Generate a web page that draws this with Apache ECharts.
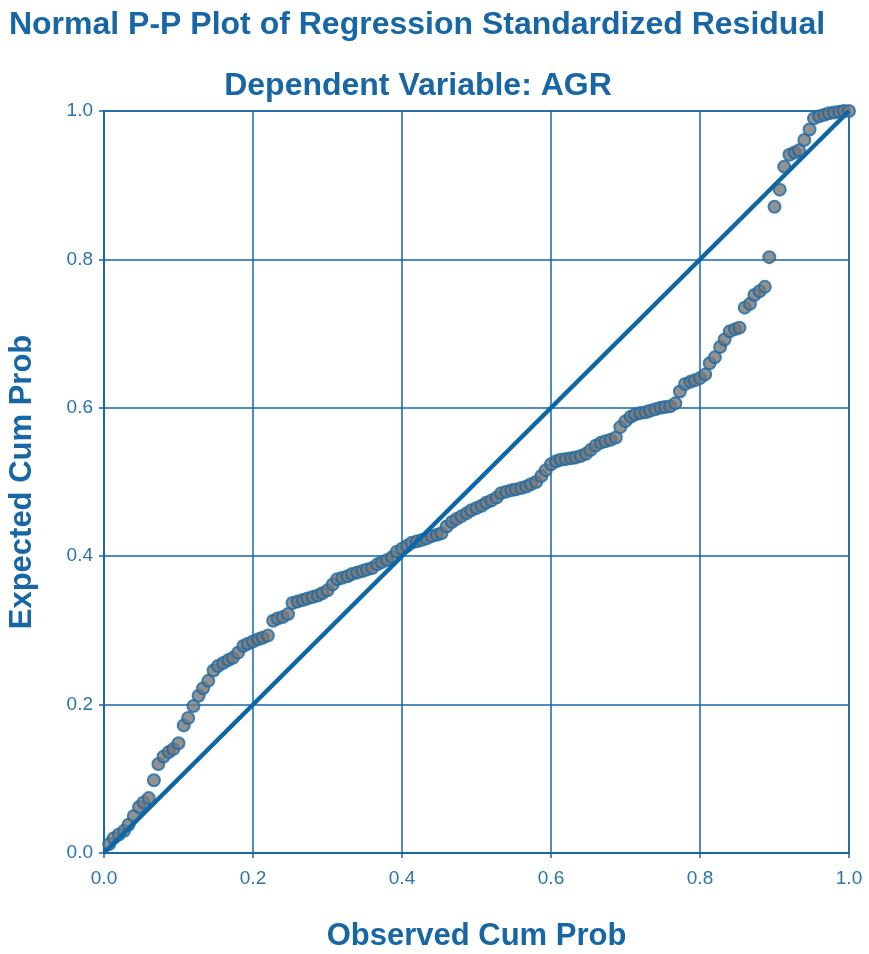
<!DOCTYPE html>
<html>
<head>
<meta charset="utf-8">
<script src="https://cdn.jsdelivr.net/npm/echarts@6/dist/echarts.min.js"></script>
<style>html,body{margin:0;padding:0;background:#fff}#c{width:869px;height:954px}</style>
</head>
<body>
<div id="c"></div>
<script>
const titleText = 'Normal P-P Plot of Regression Standardized Residual';
const subtitleText = 'Dependent Variable: AGR';
const xName = 'Observed Cum Prob';
const yName = 'Expected Cum Prob';
const tickValues = [0, 0.2, 0.4, 0.6, 0.8, 1.0];

const observed = [
  0.007,0.013,0.020,0.027,0.033,0.040,0.047,0.053,0.060,0.067,
  0.073,0.080,0.087,0.093,0.100,0.107,0.113,0.120,0.127,0.133,
  0.140,0.147,0.153,0.160,0.167,0.173,0.180,0.187,0.193,0.200,
  0.207,0.213,0.220,0.227,0.233,0.240,0.247,0.253,0.260,0.267,
  0.273,0.280,0.287,0.293,0.300,0.307,0.313,0.320,0.327,0.333,
  0.340,0.347,0.353,0.360,0.367,0.373,0.380,0.387,0.393,0.400,
  0.407,0.413,0.420,0.427,0.433,0.440,0.447,0.453,0.460,0.467,
  0.473,0.480,0.487,0.493,0.500,0.507,0.513,0.520,0.527,0.533,
  0.540,0.547,0.553,0.560,0.567,0.573,0.580,0.587,0.593,0.600,
  0.607,0.613,0.620,0.627,0.633,0.640,0.647,0.653,0.660,0.667,
  0.673,0.680,0.687,0.693,0.700,0.707,0.713,0.720,0.727,0.733,
  0.740,0.747,0.753,0.760,0.767,0.773,0.780,0.787,0.793,0.800,
  0.807,0.813,0.820,0.827,0.833,0.840,0.847,0.853,0.860,0.867,
  0.873,0.880,0.887,0.893,0.900,0.907,0.913,0.920,0.927,0.933,
  0.940,0.947,0.953,0.960,0.967,0.973,0.980,0.987,0.993,1.000
];
const expected = [
  0.012,0.020,0.025,0.030,0.038,0.050,0.062,0.068,0.074,0.098,
  0.120,0.130,0.136,0.140,0.148,0.172,0.182,0.198,0.212,0.222,
  0.232,0.246,0.252,0.256,0.260,0.263,0.270,0.279,0.282,0.285,
  0.288,0.290,0.293,0.313,0.316,0.318,0.322,0.337,0.339,0.341,
  0.343,0.345,0.347,0.350,0.354,0.362,0.369,0.371,0.373,0.376,
  0.378,0.380,0.382,0.384,0.389,0.392,0.395,0.399,0.406,0.410,
  0.414,0.418,0.420,0.422,0.424,0.427,0.429,0.431,0.440,0.446,
  0.450,0.454,0.458,0.462,0.465,0.468,0.472,0.475,0.479,0.485,
  0.487,0.489,0.490,0.492,0.494,0.497,0.500,0.508,0.516,0.524,
  0.528,0.530,0.531,0.532,0.533,0.535,0.538,0.543,0.549,0.553,
  0.555,0.557,0.560,0.574,0.582,0.588,0.591,0.593,0.594,0.596,
  0.598,0.600,0.601,0.602,0.606,0.622,0.632,0.635,0.637,0.640,
  0.645,0.660,0.668,0.682,0.692,0.703,0.706,0.708,0.735,0.740,
  0.752,0.757,0.763,0.803,0.871,0.894,0.925,0.941,0.944,0.947,
  0.961,0.975,0.990,0.993,0.995,0.997,0.998,0.999,1.000,1.000
];
const refLineX = [0, 1];
const refLineY = [0, 1];

const blue = '#1766a6';
const font = '"Liberation Sans", Arial, sans-serif';
const chart = echarts.init(document.getElementById('c'), null, {renderer: 'canvas'});

const axisCommon = {
  type: 'value', min: 0, max: 1, interval: 0.2,
  axisLine: {show: true, lineStyle: {color: blue, width: 1.5}},
  axisTick: {show: true, length: 5, lineStyle: {color: blue, width: 1.5}},
  splitLine: {show: true, lineStyle: {color: blue, width: 1.5}},
  axisLabel: {color: '#2a72b0', fontSize: 19, fontFamily: font, formatter: v => v.toFixed(1)},
  nameLocation: 'middle',
  nameTextStyle: {color: blue, fontSize: 31, fontWeight: 'bold', fontFamily: font}
};

chart.setOption({
  animation: false,
  backgroundColor: '#fff',
  graphic: [
    {type: 'text', x: 417, y: 25, style: {text: titleText, fill: blue, font: 'bold 32px ' + font, textAlign: 'center', textVerticalAlign: 'middle'}},
    {type: 'text', x: 418, y: 86, style: {text: subtitleText, fill: blue, font: 'bold 32px ' + font, textAlign: 'center', textVerticalAlign: 'middle'}}
  ],
  grid: {left: 104, right: 20, top: 111, bottom: 101, containLabel: false, outerBoundsMode: 'none',
         show: true, borderColor: blue, borderWidth: 1.5, backgroundColor: 'transparent'},
  xAxis: Object.assign({}, axisCommon, {name: xName, nameGap: 68, axisLabel: Object.assign({}, axisCommon.axisLabel, {margin: 16})}),
  yAxis: Object.assign({}, axisCommon, {name: yName, nameGap: 66, axisLabel: Object.assign({}, axisCommon.axisLabel, {margin: 11})}),
  series: [
    {
      type: 'scatter',
      data: observed.map((x, i) => [x, expected[i]]),
      symbol: 'circle', symbolSize: 12,
      itemStyle: {color: '#777777', borderColor: '#1a6aa8', borderWidth: 2},
      z: 2
    },
    {
      type: 'line',
      data: refLineX.map((x, i) => [x, refLineY[i]]),
      showSymbol: false, symbol: 'none',
      lineStyle: {color: '#0e67a5', width: 4.5},
      z: 3
    }
  ]
});
</script>
</body>
</html>
